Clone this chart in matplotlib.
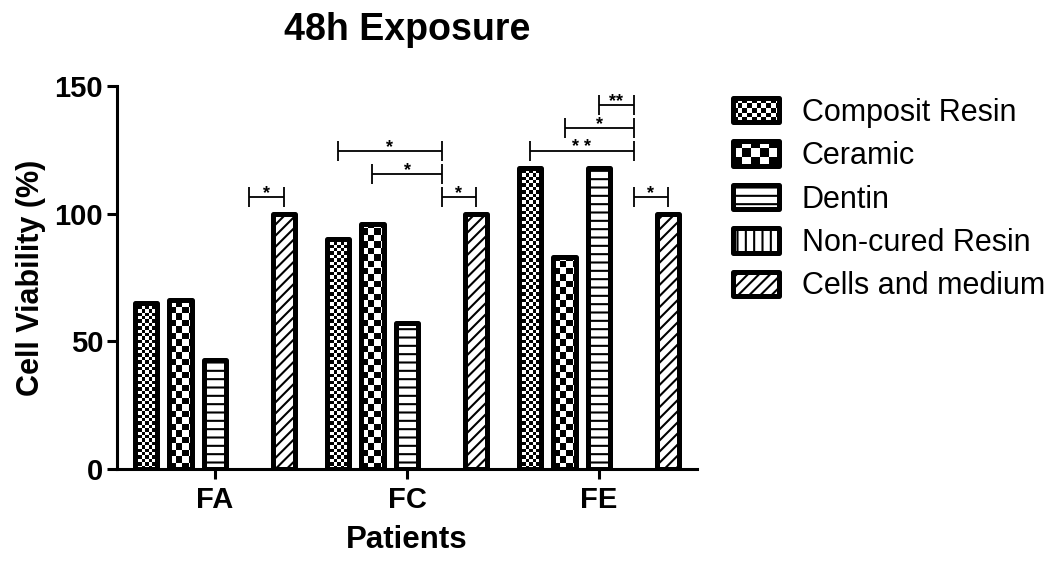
import matplotlib
matplotlib.use("Agg")
import matplotlib.pyplot as plt
import numpy as np
from matplotlib.collections import PatchCollection
from matplotlib.legend_handler import HandlerBase
from matplotlib.patches import Rectangle

plt.rcParams["font.family"] = ["Liberation Sans", "DejaVu Sans"]
plt.rcParams["hatch.linewidth"] = 1.5

# data
patients = ["FA", "FC", "FE"]
materials = ["Composit Resin", "Ceramic", "Dentin", "Non-cured Resin", "Cells and medium"]
composit = [65, 90, 118]
ceramic = [66, 96, 83]
dentin = [42.5, 57, 118]
non_cured = [0, 0, 0]
cells_medium = [100, 100, 100]
yticks = [0, 50, 100, 150]

# significance brackets: (patient, bar index from, bar index to, height, label)
brackets = [
    ("FA", 3, 4, 106.5, "*"),
    ("FC", 0, 3, 124.5, "*"),
    ("FC", 1, 3, 115.5, "*"),
    ("FC", 3, 4, 106.5, "*"),
    ("FE", 2, 3, 142.5, "**"),
    ("FE", 1, 3, 133.5, "*"),
    ("FE", 0, 3, 124.5, "* *"),
    ("FE", 3, 4, 106.5, "*"),
]

# fill style per material: ("checker", cell size in px) or a hatch string
patterns = [("checker", 3.4), ("checker", 6.5), "--", "||", "///"]

GROUP_STEP = 5.565
BAR_W = 0.64
EDGE_LW = 3.6


def checker_cells(x0, y0, w, h, cw, ch):
    rects = []
    ncol = int(np.ceil(w / cw)) + 1
    nrow = int(np.ceil(h / ch)) + 1
    for r in range(nrow):
        for c in range(ncol):
            if (r + c) % 2 == 0:
                rects.append(Rectangle((x0 + c * cw, y0 + r * ch), cw, ch))
    return rects


class PatternHandler(HandlerBase):
    def __init__(self, pattern):
        super().__init__()
        self.pattern = pattern

    def create_artists(self, legend, orig_handle, xdescent, ydescent,
                       width, height, fontsize, trans):
        x0, y0 = -xdescent, -ydescent
        artists = []
        if isinstance(self.pattern, tuple):
            cell = self.pattern[1]
            for r in checker_cells(x0, y0, width, height, cell, cell):
                r.set_transform(trans)
                r.set_facecolor("black")
                r.set_edgecolor("none")
                artists.append(r)
            hatch = None
        else:
            hatch = self.pattern
        frame = Rectangle((x0, y0), width, height, facecolor="none",
                          edgecolor="black", lw=EDGE_LW, hatch=hatch,
                          joinstyle="round", transform=trans)
        artists.append(frame)
        # clip checker squares to the box
        for a in artists[:-1]:
            a.set_clip_path(frame)
        return artists


fig = plt.figure(figsize=(10.54, 5.61), dpi=100)
ax = fig.add_axes([117 / 1054, 1 - 469 / 561, 580 / 1054, 383 / 561])
ax.set_xlim(-2.84, 13.97)
ax.set_ylim(0, 150)

# pixels per data unit, used to size the checker cells
px_x = 580 / (13.97 + 2.84)
px_y = 383 / 150

centers = np.arange(len(patients)) * GROUP_STEP
series = [composit, ceramic, dentin, non_cured, cells_medium]
proxies = []
for k, (name, vals, pat) in enumerate(zip(materials, series, patterns)):
    xs = centers + (k - 2)
    heights = np.where(np.array(vals, dtype=float) > 0, vals, np.nan)
    hatch = pat if isinstance(pat, str) else None
    bars = ax.bar(xs, heights, BAR_W, facecolor="none", edgecolor="black",
                  lw=EDGE_LW, hatch=hatch, zorder=3, label=name)
    for b in bars:
        b.set_joinstyle("round")
        if isinstance(pat, tuple) and np.isfinite(b.get_height()):
            cw = pat[1] / px_x
            ch = pat[1] / px_y
            coll = PatchCollection(
                checker_cells(b.get_x(), 0, b.get_width(), b.get_height(), cw, ch),
                facecolor="black", edgecolor="none", zorder=2)
            ax.add_collection(coll)
            coll.set_clip_path(b)
    proxies.append(Rectangle((0, 0), 1, 1, label=name))

# significance brackets
for pat_name, i, j, y, lab in brackets:
    c = centers[patients.index(pat_name)]
    x1, x2 = c + i - 2, c + j - 2
    kw = dict(color="black", lw=1.3, solid_capstyle="butt", zorder=4, clip_on=False)
    ax.plot([x1, x2], [y, y], **kw)
    ax.plot([x1, x1], [y - 4, y + 4], **kw)
    ax.plot([x2, x2], [y - 4, y + 4], **kw)
    ax.text((x1 + x2) / 2, y - 0.5, lab, ha="center", va="baseline",
            fontsize=13, fontweight="bold", color="black")

for side in ["top", "right"]:
    ax.spines[side].set_visible(False)
for side in ["left", "bottom"]:
    ax.spines[side].set_linewidth(2.2)
ax.set_yticks(yticks)
ax.set_xticks(centers)
ax.set_xticklabels(patients)
ax.tick_params(axis="both", width=2.2, length=7, labelsize=21)
ax.tick_params(axis="x", pad=5)
ax.tick_params(axis="y", pad=3)
for lbl in ax.get_xticklabels() + ax.get_yticklabels():
    lbl.set_fontweight("bold")

ax.set_ylabel("Cell Viability (%)", fontsize=22, fontweight="bold", labelpad=6)
ax.set_xlabel("Patients", fontsize=22.5, fontweight="bold", labelpad=8)
ax.set_title("48h Exposure", fontsize=27, fontweight="bold", pad=33)

handler_map = {p: PatternHandler(pat) for p, pat in zip(proxies, patterns)}
fig.legend(handles=proxies, labels=materials, handler_map=handler_map,
           loc="center left", bbox_to_anchor=(733 / 1054, 1 - 199.5 / 561),
           frameon=False, fontsize=22, handlelength=1.5, handleheight=0.85,
           handletextpad=0.75, labelspacing=0.44, borderpad=0, borderaxespad=0)

fig.savefig("out.png", dpi=100, facecolor="white")
